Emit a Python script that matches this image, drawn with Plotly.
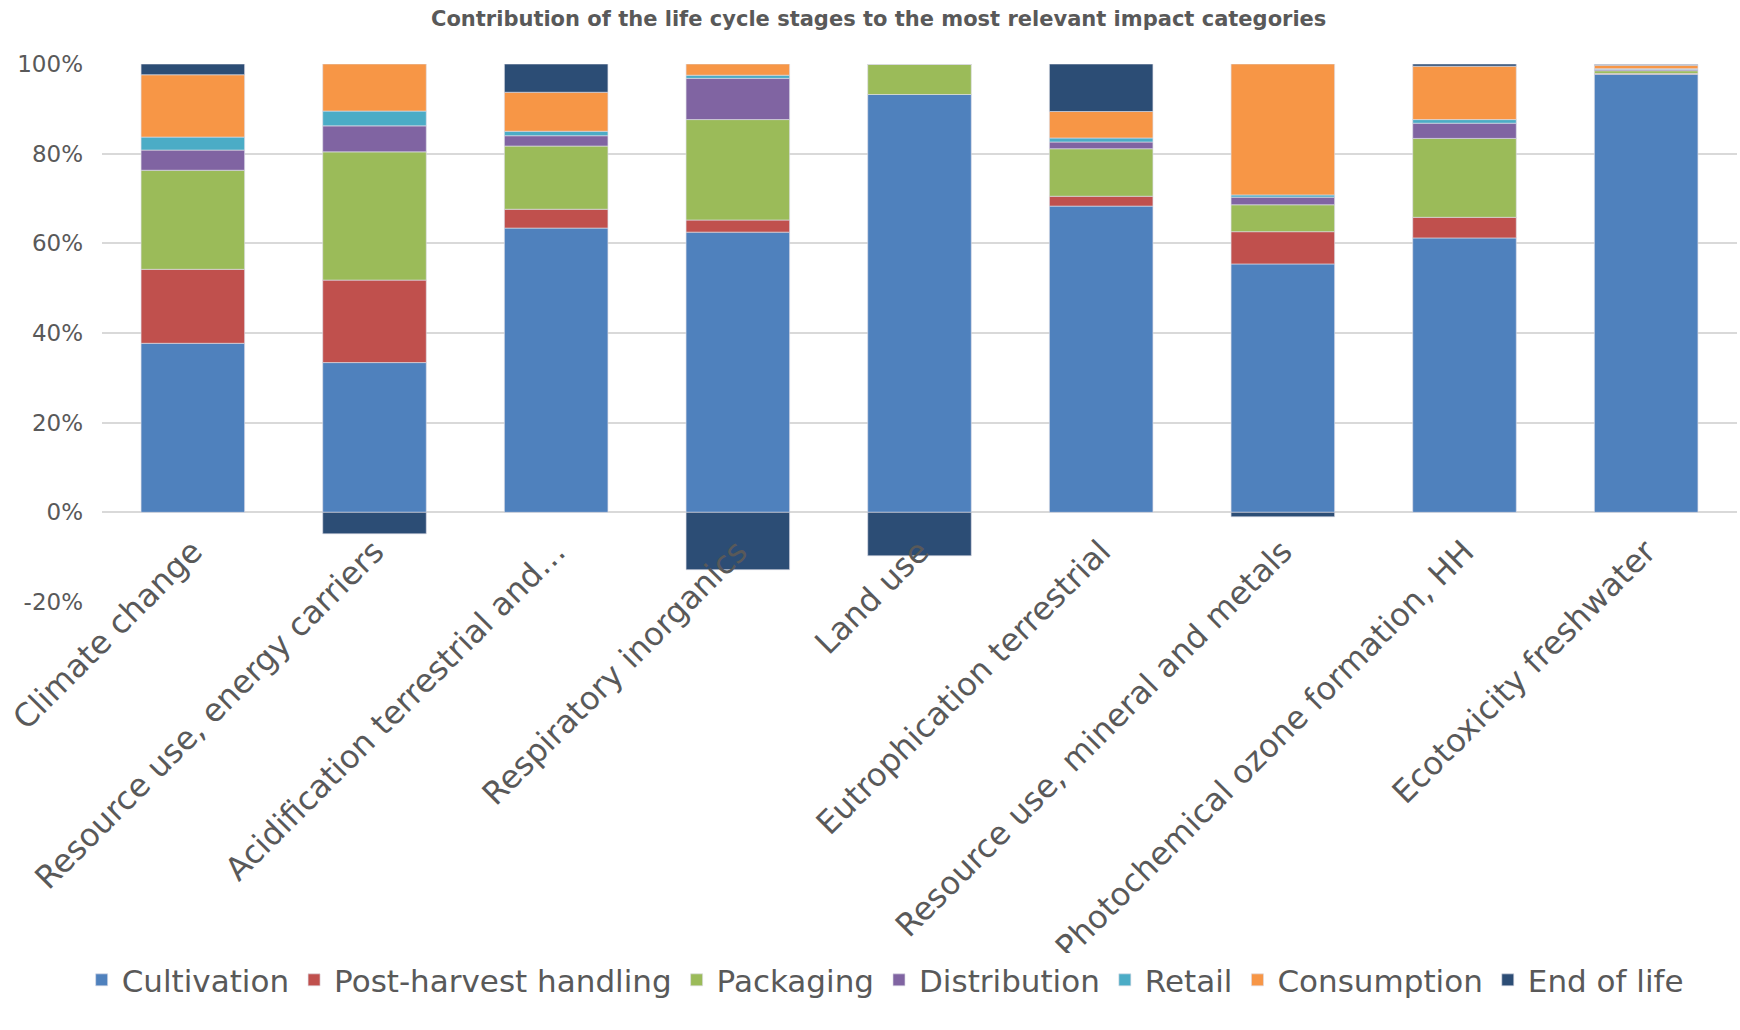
import plotly.graph_objects as go

categories = [
    "Climate change",
    "Resource use, energy carriers",
    "Acidification terrestrial and…",
    "Respiratory inorganics",
    "Land use",
    "Eutrophication terrestrial",
    "Resource use, mineral and metals",
    "Photochemical ozone formation, HH",
    "Ecotoxicity freshwater",
]

cultivation   = [37.7, 33.4, 63.4, 62.5, 93.2, 68.3, 55.4, 61.2, 97.7]
post_harvest  = [16.5, 18.4, 4.2, 2.7, 0.0, 2.2, 7.2, 4.6, 0.2]
packaging     = [22.1, 28.6, 14.1, 22.4, 6.8, 10.6, 6.0, 17.6, 0.6]
distribution  = [4.5, 5.8, 2.3, 9.2, 0.0, 1.5, 1.7, 3.4, 0.3]
retail        = [2.9, 3.3, 1.0, 0.7, 0.0, 0.9, 0.5, 0.8, 0.15]
consumption   = [13.9, 10.5, 8.7, 2.5, 0.0, 5.9, 29.2, 11.9, 0.75]
end_of_life   = [2.4, -4.8, 6.3, -12.8, -9.7, 10.6, -1.0, 0.5, 0.2]

series_names = ["Cultivation", "Post-harvest handling", "Packaging", "Distribution",
                "Retail", "Consumption", "End of life"]
series_values = [cultivation, post_harvest, packaging, distribution, retail,
                 consumption, end_of_life]
colors = ["#4F81BD", "#C0504D", "#9BBB59", "#8064A2", "#4BACC6", "#F79646", "#2C4D75"]

y_ticks = [-20, 0, 20, 40, 60, 80, 100]
y_tick_labels = ["-20%", "0%", "20%", "40%", "60%", "80%", "100%"]
y_min, y_max = -20, 100

fig = go.Figure()
for name, vals, col in zip(series_names, series_values, colors):
    fig.add_trace(go.Bar(
        x=categories, y=vals, name=name,
        marker=dict(color=col, line=dict(color="rgba(220,220,230,0.8)", width=0.8)),
    ))

font_family = "DejaVu Sans, Verdana, sans-serif"
text_color = "#595959"

fig.update_layout(
    barmode="relative",
    bargap=0.43,
    width=1740, height=1030,
    paper_bgcolor="white", plot_bgcolor="white",
    font=dict(family=font_family, color=text_color),
    title=dict(
        text="<b>Contribution of the life cycle stages to the most relevant impact categories</b>",
        x=0.505, xanchor="center", y=0.982, yanchor="middle",
        font=dict(size=21, color=text_color, family=font_family),
    ),
    margin=dict(l=102, r=3, t=64, b=428),
    xaxis=dict(
        tickangle=-45, tickfont=dict(size=32, color=text_color),
        showgrid=False, showline=False, ticks="", automargin=False,
        anchor="free", position=(0 - y_min) / (y_max - y_min),
        ticklabelstandoff=13,
    ),
    yaxis=dict(
        range=[y_min, y_max], tickvals=y_ticks, ticktext=y_tick_labels,
        tickfont=dict(size=23, color=text_color),
        showgrid=True, gridcolor="#D9D9D9", gridwidth=1.5,
        zeroline=True, zerolinecolor="#D9D9D9", zerolinewidth=1.5,
        ticks="", automargin=False, ticklabelstandoff=18,
    ),
    legend=dict(
        orientation="h", x=0.479, xanchor="center", y=-0.703, yanchor="middle",
        font=dict(size=31, color=text_color), itemwidth=30,
        traceorder="normal", tracegroupgap=0,
    ),
)

fig.write_html("out.html")
